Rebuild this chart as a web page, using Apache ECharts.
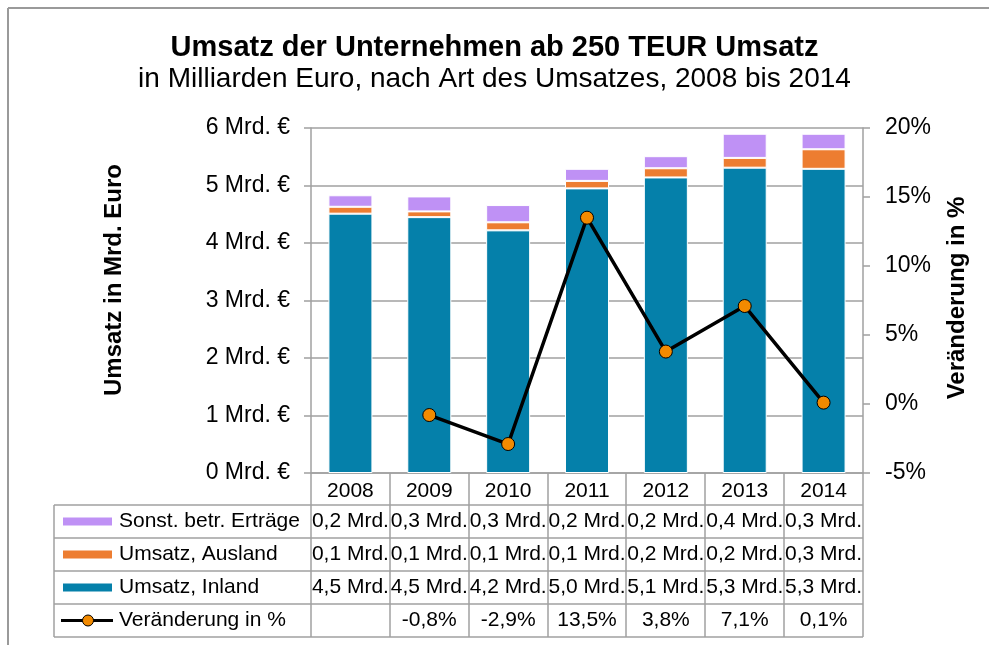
<!DOCTYPE html>
<html>
<head>
<meta charset="utf-8">
<script src="https://cdn.jsdelivr.net/npm/echarts@6/dist/echarts.min.js"></script>
<style>
  html, body { margin: 0; padding: 0; background: #fff; }
  #main { width: 989px; height: 645px; }
</style>
</head>
<body>
<div id="main"></div>
<script>
// data
var years = ['2008', '2009', '2010', '2011', '2012', '2013', '2014']
var inland = [4.51, 4.45, 4.22, 4.95, 5.14, 5.31, 5.29]
var ausland = [0.12, 0.10, 0.14, 0.13, 0.16, 0.17, 0.34]
var sonst = [0.20, 0.26, 0.30, 0.21, 0.21, 0.42, 0.27]
var veraenderung = [null, -0.8, -2.9, 13.5, 3.8, 7.1, 0.1]

// table texts as printed under the chart
var sonstLabels = ['0,2 Mrd.', '0,3 Mrd.', '0,3 Mrd.', '0,2 Mrd.', '0,2 Mrd.', '0,4 Mrd.', '0,3 Mrd.']
var auslandLabels = ['0,1 Mrd.', '0,1 Mrd.', '0,1 Mrd.', '0,1 Mrd.', '0,2 Mrd.', '0,2 Mrd.', '0,3 Mrd.']
var inlandLabels = ['4,5 Mrd.', '4,5 Mrd.', '4,2 Mrd.', '5,0 Mrd.', '5,1 Mrd.', '5,3 Mrd.', '5,3 Mrd.']
var veraenderungLabels = ['', '-0,8%', '-2,9%', '13,5%', '3,8%', '7,1%', '0,1%']

var C_INLAND = '#0580AA'
var C_AUSLAND = '#ED7D31'
var C_SONST = '#BF91F5'
var C_DOT = '#F28A00'
var GRAY = '#A0A0A0'
var FONT = 'Liberation Sans, Arial, sans-serif'

var chartDom = document.getElementById('main')
var myChart = echarts.init(chartDom)

// layout of plot + table
var GL = 311, GR = 863, GT = 128, GB = 473
var colW = (GR - GL) / years.length
var TL = 54
var rowY = [505, 538, 571, 604, 637]

var graphic = []
// outer frame (top + left only)
graphic.push({ type: 'line', shape: { x1: 8, y1: 8, x2: 989, y2: 8 }, style: { stroke: '#9a9a9a', lineWidth: 2 } })
graphic.push({ type: 'line', shape: { x1: 8, y1: 8, x2: 8, y2: 645 }, style: { stroke: '#9a9a9a', lineWidth: 2 } })

// axis names
graphic.push({
  type: 'text', x: 114, y: 280, rotation: Math.PI / 2,
  style: { text: 'Umsatz in Mrd. Euro', font: 'bold 24px ' + FONT, fill: '#000', align: 'center', verticalAlign: 'middle' }
})
graphic.push({
  type: 'text', x: 957, y: 298, rotation: Math.PI / 2,
  style: { text: 'Veränderung in %', font: 'bold 24px ' + FONT, fill: '#000', align: 'center', verticalAlign: 'middle' }
})

// table lines
for (var r = 0; r < rowY.length; r++) {
  graphic.push({ type: 'line', shape: { x1: TL, y1: rowY[r], x2: GR, y2: rowY[r] }, style: { stroke: GRAY, lineWidth: 1.5 } })
}
graphic.push({ type: 'line', shape: { x1: TL, y1: rowY[0], x2: TL, y2: rowY[4] }, style: { stroke: GRAY, lineWidth: 1.5 } })
for (var c = 0; c <= years.length; c++) {
  var xc = Math.round(GL + c * colW)
  graphic.push({ type: 'line', shape: { x1: xc, y1: GB, x2: xc, y2: rowY[4] }, style: { stroke: GRAY, lineWidth: 1.5 } })
}

// table legend column
var rowsDef = [
  { name: 'Sonst. betr. Erträge', color: C_SONST, labels: sonstLabels },
  { name: 'Umsatz, Ausland', color: C_AUSLAND, labels: auslandLabels },
  { name: 'Umsatz, Inland', color: C_INLAND, labels: inlandLabels },
  { name: 'Veränderung in %', color: null, labels: veraenderungLabels }
]
rowsDef.forEach(function (row, i) {
  var cy = (rowY[i] + rowY[i + 1]) / 2
  if (row.color) {
    graphic.push({ type: 'rect', shape: { x: 63, y: cy - 4, width: 49, height: 8 }, style: { fill: row.color } })
  } else {
    graphic.push({ type: 'line', shape: { x1: 61, y1: cy, x2: 113, y2: cy }, style: { stroke: '#000', lineWidth: 3 } })
    graphic.push({ type: 'circle', shape: { cx: 88, cy: cy, r: 5.5 }, style: { fill: C_DOT, stroke: '#000', lineWidth: 1 } })
  }
  graphic.push({
    type: 'text', x: 119, y: cy,
    style: { text: row.name, font: '21px ' + FONT, fill: '#000', align: 'left', verticalAlign: 'middle' }
  })
  row.labels.forEach(function (t, j) {
    graphic.push({
      type: 'text', x: GL + (j + 0.5) * colW, y: cy,
      style: { text: t, font: '21px ' + FONT, fill: '#000', align: 'center', verticalAlign: 'middle' }
    })
  })
})

var option = {
  animation: false,
  textStyle: { fontFamily: FONT },
  title: [
    {
      text: 'Umsatz der Unternehmen ab 250 TEUR Umsatz',
      left: 'center', top: 28,
      textStyle: { fontSize: 29, fontWeight: 'bold', color: '#000', fontFamily: FONT }
    },
    {
      text: 'in Milliarden Euro, nach Art des Umsatzes, 2008 bis 2014',
      left: 'center', top: 60,
      textStyle: { fontSize: 28, fontWeight: 'normal', color: '#000', fontFamily: FONT }
    }
  ],
  grid: { left: GL, right: 989 - GR, top: GT, bottom: 645 - GB },
  xAxis: {
    type: 'category',
    data: years,
    axisLine: { lineStyle: { color: GRAY, width: 1.5 } },
    axisTick: { show: false },
    axisLabel: { color: '#000', fontSize: 21, margin: 8, fontFamily: FONT }
  },
  yAxis: [
    {
      type: 'value', min: 0, max: 6, interval: 1,
      axisLine: { show: true, lineStyle: { color: GRAY, width: 1.5 } },
      axisTick: { show: true, length: 7, lineStyle: { color: GRAY, width: 1.5 } },
      splitLine: { lineStyle: { color: GRAY, width: 1.5 } },
      axisLabel: { color: '#000', fontSize: 23, margin: 21, formatter: '{value} Mrd. €', fontFamily: FONT }
    },
    {
      type: 'value', min: -5, max: 20, interval: 5,
      axisLine: { show: true, lineStyle: { color: GRAY, width: 1.5 } },
      axisTick: { show: true, length: 7, lineStyle: { color: GRAY, width: 1.5 } },
      splitLine: { show: false },
      axisLabel: { color: '#000', fontSize: 23, margin: 22, formatter: '{value}%', fontFamily: FONT }
    }
  ],
  series: [
    {
      name: 'Umsatz, Inland', type: 'bar', stack: 'u', barWidth: 44, data: inland,
      itemStyle: { color: C_INLAND, borderColor: '#fff', borderWidth: 1 }
    },
    {
      name: 'Umsatz, Ausland', type: 'bar', stack: 'u', data: ausland,
      itemStyle: { color: C_AUSLAND, borderColor: '#fff', borderWidth: 1 }
    },
    {
      name: 'Sonst. betr. Erträge', type: 'bar', stack: 'u', data: sonst,
      itemStyle: { color: C_SONST, borderColor: '#fff', borderWidth: 1 }
    },
    {
      name: 'Veränderung in %', type: 'line', yAxisIndex: 1, data: veraenderung,
      symbol: 'circle', symbolSize: 13,
      lineStyle: { color: '#000', width: 3.5 },
      itemStyle: { color: C_DOT, borderColor: '#000', borderWidth: 1 },
      z: 5
    }
  ],
  graphic: graphic
}

option && myChart.setOption(option)
</script>
</body>
</html>
